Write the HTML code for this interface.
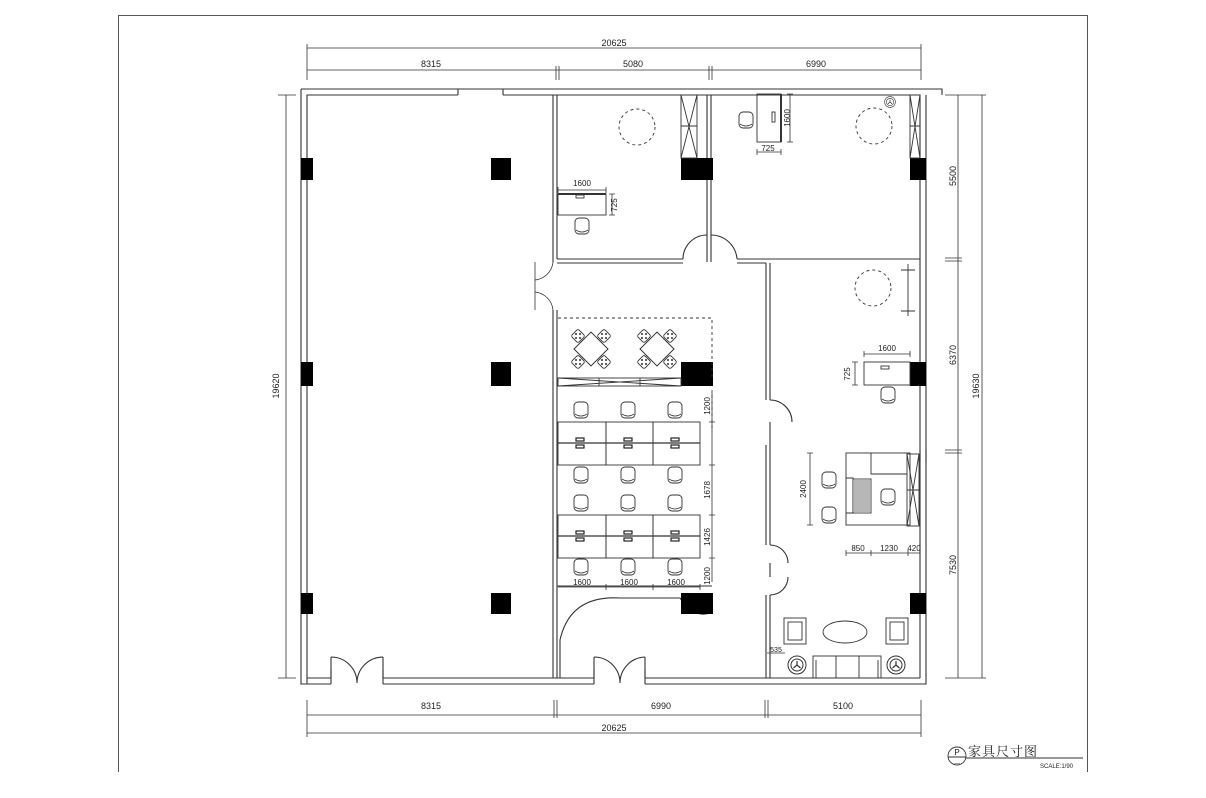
<!DOCTYPE html>
<html><head><meta charset="utf-8">
<style>
html,body{margin:0;padding:0;background:#fff;}
svg{display:block;}
text{font-family:"Liberation Sans","Noto Sans CJK SC",sans-serif;fill:#222;}
</style></head><body>
<svg width="1206" height="798" viewBox="0 0 1206 798" xmlns="http://www.w3.org/2000/svg">
<defs>
<g id="ch"><rect x="-7" y="-8" width="14" height="16" rx="4" fill="#fff" stroke="#333" stroke-width="0.9"/><path d="M-6 4 Q0 8 6 4" fill="none" stroke="#333" stroke-width="0.8"/></g>
<g id="col"><rect x="0" y="0" width="1" height="1" fill="#000"/></g>
<g id="seat"><rect x="-5" y="-5" width="10" height="10" rx="2" transform="rotate(45)" fill="#fff" stroke="#333" stroke-width="0.9"/><circle r="1" cx="-2" cy="-2" fill="#333"/><circle r="1" cx="2" cy="2" fill="#333"/><circle r="1" cx="2" cy="-2" fill="#333"/><circle r="1" cx="-2" cy="2" fill="#333"/></g>
<g id="dine"><rect x="-12" y="-12" width="24" height="24" transform="rotate(45)" fill="#fff" stroke="#333"/><use href="#seat" x="-13" y="-13"/><use href="#seat" x="13" y="-13"/><use href="#seat" x="-13" y="13"/><use href="#seat" x="13" y="13"/></g>
<g id="plant"><circle r="9" fill="#fff" stroke="#333"/><circle r="6" fill="none" stroke="#333"/><path d="M0 -4 L0 0 L-3.5 3 M0 0 L3.5 3" stroke="#333" fill="none" stroke-width="1.2"/></g>
</defs>
<g fill="none" stroke="#555" stroke-width="1">
<!-- frame -->
<path d="M118.5 772 V15.5 H1087.5 V772"/>
</g>
<!-- outer walls -->
<g fill="none" stroke="#333" stroke-width="1.1">
<path d="M301 89 H942 V95"/>
<path d="M307 684 V95 H458 M503 95 H920 V678"/>
<path d="M458 89 V95 M503 89 V95"/>
<path d="M301 89 V684 H331 M383 684 H594 M645 684 H926 V95"/>
<path d="M307 678 H331 M383 678 H594 M645 678 H920"/>
<path d="M331 670 V684 M383 670 V684 M594 670 V684 M645 670 V684"/>
<rect x="596" y="678" width="5" height="0" />
<!-- bottom doors -->
<path d="M331 657 V678 M383 657 V678 M331 657 A26 26 0 0 1 357 683 M383 657 A26 26 0 0 0 357 683"/>
<path d="M594 657 V678 M645 657 V678 M594 657 A26 26 0 0 1 620 683 M645 657 A26 26 0 0 0 620 683"/>
<!-- left room wall -->
<path d="M553 95 V262 M557 95 V259 M553 310 V678 M557 310 V678"/>
<path d="M553 262 A20 20 0 0 1 535 280 M553 310 A20 20 0 0 0 535 292 M535 262 V310" stroke-width="0.8"/>
<!-- top rooms divider -->
<path d="M707 95 V262 M711 95 V262"/>
<path d="M557 259 H683 M557 263 H683 M683 259 A24 24 0 0 1 707 235 M711 235 A26 26 0 0 1 737 259 M737 259 H920 M737 263 H766"/>
<!-- corridor east wall -->
<path d="M766 263 V400 M770 263 V400 M766 445 V545 M770 445 V545 M766 595 V678 M770 595 V678"/>
<path d="M770 400 A22 22 0 0 1 792 422 M770 445 V422"/>
<path d="M770 545 A18 18 0 0 1 788 563 M770 595 A18 18 0 0 0 788 577 M770 563 V577"/>
<!-- reception curve -->
<path d="M560 678 V640 Q570 595 620 598 H680 Q695 620 712 612"/>
<path d="M557 586 H712"/>
<!-- right wall window strips -->
<path d="M920 450 V462 M926 450 V462 M920 370 V380"/>
</g>
<!-- columns -->
<g fill="#000">
<rect x="301" y="158" width="12" height="22"/><rect x="491" y="158" width="20" height="22"/><rect x="681" y="158" width="32" height="22"/><rect x="910" y="158" width="16" height="22"/>
<rect x="301" y="362" width="12" height="24"/><rect x="491" y="362" width="20" height="24"/><rect x="681" y="362" width="32" height="24"/><rect x="910" y="362" width="16" height="24"/>
<rect x="301" y="593" width="12" height="21"/><rect x="491" y="593" width="20" height="21"/><rect x="681" y="593" width="32" height="21"/><rect x="910" y="593" width="16" height="21"/>
</g>
<!-- furniture -->
<g fill="none" stroke="#333" stroke-width="0.9">
<!-- top left room -->
<rect x="681" y="95" width="16" height="63"/><path d="M681 95 L697 158 M697 95 L681 158 M681 126 H697"/>
<circle cx="637" cy="127" r="18" stroke-dasharray="3 3"/>
<rect x="558" y="194" width="48" height="21"/><path d="M558 194 H606" stroke-width="2"/><rect x="576" y="195" width="8" height="3"/>
<rect x="557" y="192" width="0" height="0"/>
<!-- top right room -->
<rect x="757" y="94" width="24" height="48"/><path d="M781 94 V142" stroke-width="2"/><rect x="772" y="112" width="3" height="10"/>
<circle cx="874" cy="126" r="18" stroke-dasharray="3 3"/>
<rect x="910" y="95" width="10" height="63"/><path d="M910 95 L920 158 M920 95 L910 158 M910 126 H920"/>
<!-- middle right room -->
<circle cx="873" cy="288" r="18" stroke-dasharray="3 3"/>
<path d="M908 264 V316 M901 270 H915 M901 311 H915"/>
<rect x="864" y="362" width="46" height="23"/><rect x="881" y="366" width="8" height="3"/>
<!-- exec desk -->
<rect x="846" y="453" width="64" height="72"/><path d="M871 453 V474 H907 M846 478 H853 V513 H846"/>
<rect x="853" y="479" width="18" height="34" fill="#fff"/>
<rect x="854" y="480" width="16" height="32" stroke="none" fill="#999" opacity="0.7"/>
<rect x="907" y="454" width="12" height="72"/><path d="M907 454 L919 526 M919 454 L907 526 M907 490 H919"/>
<!-- lounge -->
<rect x="784" y="618" width="22" height="26"/><rect x="788" y="622" width="14" height="18"/>
<rect x="886" y="618" width="22" height="26"/><rect x="890" y="622" width="14" height="18"/>
<ellipse cx="845" cy="632" rx="22" ry="11"/>
<rect x="813" y="656" width="68" height="22"/><path d="M836 656 V678 M859 656 V678 M816 660 V678 M878 660 V678"/>
<!-- dining -->
<path d="M558 318 H712 V380" stroke-dasharray="3 3"/>
<rect x="558" y="378" width="123" height="8"/><path d="M558 378 L681 386 M558 386 L681 378 M599 378 V386 M640 378 V386"/>
<!-- workstations -->
<rect x="558" y="422" width="48" height="43"/><rect x="606" y="422" width="47" height="43"/><rect x="653" y="422" width="47" height="43"/>
<path d="M558 443 H700" stroke-width="1.3"/>
<rect x="558" y="515" width="48" height="43"/><rect x="606" y="515" width="47" height="43"/><rect x="653" y="515" width="47" height="43"/>
<path d="M558 536 H700" stroke-width="1.3"/>
<path d="M712 395 V430" stroke-dasharray="3 3"/>
</g>
<g fill="#fff" stroke="#222" stroke-width="1.2">
<rect x="576" y="438" width="8" height="3"/><rect x="576" y="445" width="8" height="3"/>
<rect x="624" y="438" width="8" height="3"/><rect x="624" y="445" width="8" height="3"/>
<rect x="671" y="438" width="8" height="3"/><rect x="671" y="445" width="8" height="3"/>
<rect x="576" y="531" width="8" height="3"/><rect x="576" y="538" width="8" height="3"/>
<rect x="624" y="531" width="8" height="3"/><rect x="624" y="538" width="8" height="3"/>
<rect x="671" y="531" width="8" height="3"/><rect x="671" y="538" width="8" height="3"/>
</g>
<use href="#ch" x="581" y="410"/><use href="#ch" x="628" y="410"/><use href="#ch" x="675" y="410"/>
<use href="#ch" x="581" y="475"/><use href="#ch" x="628" y="475"/><use href="#ch" x="675" y="475"/>
<use href="#ch" x="581" y="503"/><use href="#ch" x="628" y="503"/><use href="#ch" x="675" y="503"/>
<use href="#ch" x="581" y="567"/><use href="#ch" x="628" y="567"/><use href="#ch" x="675" y="567"/>
<use href="#ch" x="582" y="226"/>
<use href="#ch" x="746" y="120" transform="rotate(0)"/>
<use href="#ch" x="888" y="395"/>
<use href="#ch" x="829" y="480"/><use href="#ch" x="829" y="515"/>
<use href="#ch" x="888" y="497"/>
<use href="#dine" x="591" y="349"/><use href="#dine" x="657" y="349"/>
<use href="#plant" x="797" y="665"/><use href="#plant" x="896" y="665"/>
<g transform="translate(890,102) scale(0.6)"><use href="#plant"/></g>
<!-- dimensions -->
<g stroke="#333" stroke-width="0.8" fill="none">
<path d="M307 48 H921 M307 70 H921 M307 44 V80 M556 66 V80 M559 66 V80 M709 66 V80 M712 66 V80 M921 44 V80"/>
<path d="M307 715 H921 M307 733 H921 M307 700 V737 M554 700 V718 M557 700 V718 M765 700 V718 M768 700 V718 M921 700 V737"/>
<path d="M286 95 V678 M278 95 H296 M278 678 H296"/>
<path d="M958 95 V678 M982 95 V678 M945 95 H986 M945 258 H962 M945 261 H962 M945 450 H962 M945 453 H962 M945 678 H986"/>
<!-- small dims -->
<path d="M558 190 H606 M558 187 V193 M606 187 V193 M612 194 V215 M609 194 H615 M609 215 H615"/>
<path d="M790 94 V142 M787 94 H793 M787 142 H793 M757 152 H781 M757 149 V155 M781 149 V155"/>
<path d="M864 354 H910 M864 351 V357 M910 351 V357 M855 362 V385 M852 362 H858 M852 385 H858"/>
<path d="M810 453 V525 M807 453 H813 M807 525 H813"/>
<path d="M846 553 H920 M846 550 V556 M871 550 V556 M908 550 V556 M920 550 V556"/>
<path d="M767 653 H785"/>
<path d="M712 390 V582 M709 422 H715 M709 465 H715 M709 515 H715 M709 558 H715"/>
<path d="M558 587 H700 M606 584 V590 M653 584 V590 M700 584 V590"/>
</g>
<g font-size="9" text-anchor="middle">
<text x="614" y="46">20625</text>
<text x="431" y="67">8315</text><text x="633" y="67">5080</text><text x="816" y="67">6990</text>
<text x="431" y="709">8315</text><text x="661" y="709">6990</text><text x="843" y="709">5100</text>
<text x="614" y="731">20625</text>
<text transform="translate(279,386) rotate(-90)">19620</text>
<text transform="translate(956,176) rotate(-90)">5500</text>
<text transform="translate(956,355) rotate(-90)">6370</text>
<text transform="translate(956,565) rotate(-90)">7530</text>
<text transform="translate(979,386) rotate(-90)">19630</text>
<text x="582" y="186" font-size="8">1600</text>
<text transform="translate(617,205) rotate(-90)" font-size="8">725</text>
<text transform="translate(790,118) rotate(-90)" font-size="8">1600</text>
<text x="768" y="151" font-size="8">725</text>
<text x="887" y="351" font-size="8">1600</text>
<text transform="translate(850,374) rotate(-90)" font-size="8">725</text>
<text transform="translate(806,489) rotate(-90)" font-size="8">2400</text>
<text x="858" y="551" font-size="8">850</text><text x="889" y="551" font-size="8">1230</text><text x="914" y="551" font-size="8">420</text>
<text x="776" y="652" font-size="7">535</text>
<text transform="translate(710,406) rotate(-90)" font-size="8">1200</text>
<text transform="translate(710,490) rotate(-90)" font-size="8">1678</text>
<text transform="translate(710,537) rotate(-90)" font-size="8">1426</text>
<text transform="translate(710,576) rotate(-90)" font-size="8">1200</text>
<text x="582" y="585" font-size="8">1600</text><text x="629" y="585" font-size="8">1600</text><text x="676" y="585" font-size="8">1600</text>
</g>
<!-- title -->
<g stroke="#333" fill="none" stroke-width="0.9">
<circle cx="957" cy="756" r="9"/><path d="M948 757 H966 M966 758 H1083"/>
</g>
<text x="957" y="755" font-size="8" text-anchor="middle">P</text>
<text x="957" y="765" font-size="6" text-anchor="middle">—</text>
<text x="968" y="756" font-size="13" style="font-family:'Liberation Serif','Noto Serif CJK SC',serif" letter-spacing="1">家具尺寸图</text>
<text x="1040" y="768" font-size="6">SCALE:1/90</text>
</svg>
</body></html>
